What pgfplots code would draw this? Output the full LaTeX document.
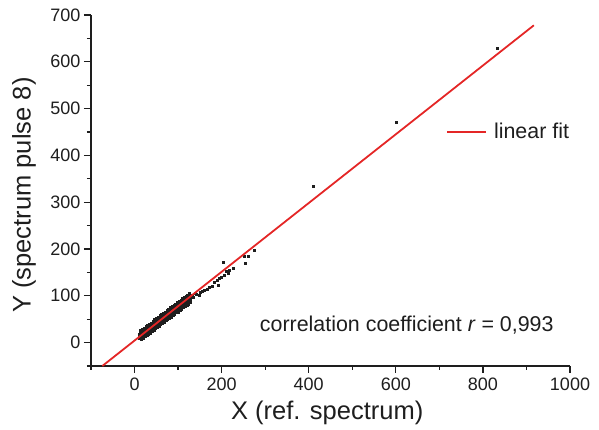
\documentclass[border=0pt]{standalone}
\usepackage{fontspec}
\setmainfont{Liberation Sans}
\usepackage{pgfplots}
\pgfplotsset{compat=1.18}
\definecolor{fitred}{RGB}{228,38,38}
\definecolor{txt}{RGB}{30,30,30}
\pgfplotsset{common/.style={
  at={(0pt,0pt)}, anchor=south west,
  scale only axis, width=479pt, height=351pt,
  xmin=-100, xmax=1000, ymin=-50, ymax=700, clip=false}}
\begin{document}
\begin{tikzpicture}
\path[use as bounding box] (-91pt,-64pt) rectangle (508pt,366pt);
\begin{axis}[common, hide axis]
\addplot[only marks, mark=square*, mark size=1.0pt, txt] coordinates {
(10,9) (11,14) (10,19) (12,10) (13,16) (12,20) (14,12) (15,17) (14,22) (16,13) (17,18) (16,23)
(18,14) (19,20) (18,24) (20,16) (21,21) (20,26) (22,17) (23,23) (22,27) (24,19) (25,24) (24,29)
(26,20) (27,26) (26,30) (28,21) (29,27) (28,32) (30,23) (31,29) (30,33) (32,24) (33,30) (32,35)
(34,26) (35,32) (34,36) (36,27) (37,33) (36,38) (38,28) (39,35) (38,39) (40,30) (41,36) (40,41)
(42,31) (43,37) (42,42) (44,32) (45,39) (44,43) (46,34) (47,40) (46,45) (48,35) (49,42) (48,46)
(50,37) (51,44) (50,48) (52,39) (53,45) (52,50) (54,40) (55,47) (54,51) (56,42) (57,48) (56,53)
(58,43) (59,49) (58,54) (60,44) (61,51) (60,55) (62,46) (63,52) (62,57) (64,47) (65,54) (64,58)
(66,49) (67,55) (66,60) (68,50) (69,56) (68,61) (70,51) (71,58) (70,62) (72,53) (73,59) (72,64)
(74,54) (75,61) (74,65) (76,55) (77,62) (76,66) (78,57) (79,63) (78,68) (80,58) (81,65) (80,69)
(82,60) (83,66) (82,71) (84,61) (85,67) (84,72) (86,62) (87,69) (86,73) (88,64) (89,70) (88,75)
(90,65) (91,72) (90,76) (92,66) (93,73) (92,77) (94,68) (95,74) (94,79) (96,69) (97,76) (96,80)
(98,71) (99,77) (98,82) (100,72) (101,78) (100,83) (102,73) (103,80) (102,84) (104,75) (105,81) (104,86)
(106,76) (107,83) (106,87) (108,78) (109,84) (108,88) (110,79) (111,85) (110,90) (112,80) (113,87) (112,91)
(114,82) (115,88) (114,93) (116,83) (117,90) (116,94) (118,84) (119,91) (118,95) (120,86) (121,92) (120,97)
(122,87) (123,94) (122,98) (124,89) (125,95) (124,100) (126,90) (127,96) (126,101) (128,91) (129,98) (128,102)
(16,8) (14,26) (20,10) (18,28) (24,13) (22,31) (28,16) (26,34) (32,19) (30,37) (36,21) (34,39)
(40,24) (38,42) (44,27) (42,46) (48,30) (46,49) (52,33) (50,52) (56,36) (54,55) (60,39) (58,58)
(64,42) (62,61) (68,44) (66,63) (72,47) (70,66) (76,50) (74,69) (80,53) (78,72) (84,55) (82,75)
(88,58) (86,77) (92,61) (90,80) (96,64) (94,83) (100,66) (98,86) (104,69) (102,88) (108,72) (106,91)
(112,75) (110,94) (116,77) (114,97) (120,80) (118,99) (124,83) (122,102) (128,86) (126,105)
(132,100) (135,97) (139,105) (142,103) (148,101) (151,108) (155,110) (160,112) (167,115) (172,118)
(178,120) (182,128) (190,133) (191,122) (195,138) (200,140) (203,172) (206,145) (210,153) (214,149)
(218,155) (226,160) (251,184) (255,170) (261,184) (274,198) (410,335) (600,472) (833,628)
};
\end{axis}
\begin{axis}[
  common,
  axis x line*=bottom, axis y line*=left,
  axis line style={line width=1.4pt, txt},
  xtick={0,200,...,1000}, minor xtick={-100,100,...,900},
  ytick={0,100,...,700}, minor ytick={-50,50,...,650},
  tick align=outside,
  major tick length=7pt, minor tick length=4pt,
  every tick/.style={line width=1.3pt, txt},
  /pgf/number format/assume math mode=true,
  /pgf/number format/1000 sep={},
  ticklabel style={font=\fontsize{18}{18}\selectfont, text=txt},
  xticklabel style={yshift=-1pt},
  xlabel={X (ref. spectrum)},
  xlabel style={font=\fontsize{25.5}{26}\selectfont, text=txt, at={(axis description cs:0.493,0)}, anchor=center, yshift=-47pt},
  ylabel={Y (spectrum pulse 8)},
  ylabel style={font=\fontsize{25.5}{26}\selectfont, text=txt, at={(axis description cs:-0.1399,0.487)}, anchor=center},
  legend style={draw=none, fill=none, at={(axis description cs:0.735,0.6675)}, anchor=west, font=\fontsize{21.4}{22}\selectfont, text=txt},
  legend image code/.code={\draw[#1] (0pt,0pt) -- (39pt,0pt); \path (44pt,0pt);},
]
\addplot[fitred, line width=1.8pt] coordinates {(-74,-50) (917,678)};
\addlegendentry{linear fit}
\node[anchor=base east, font=\fontsize{21.4}{22}\selectfont, text=txt] at (rel axis cs:0.973,0.0977) {correlation coefficient \textit{r} = 0,993};
\end{axis}
\end{tikzpicture}
\end{document}
